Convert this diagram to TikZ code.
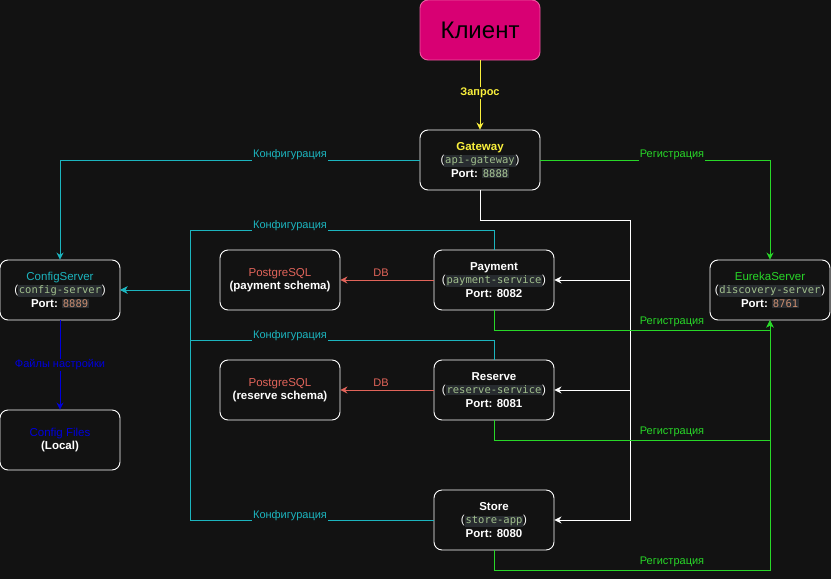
\documentclass[tikz,border=0pt]{standalone}
\usepackage{fontspec}
\setmainfont{Liberation Sans}
\setmonofont{DejaVu Sans Mono}
\usetikzlibrary{arrows.meta}
\definecolor{bg}{RGB}{18,18,18}
\definecolor{codebg}{RGB}{40,44,48}
\definecolor{codefg}{RGB}{160,190,140}
\definecolor{numor}{RGB}{200,140,110}
\definecolor{numgr}{RGB}{170,200,150}
\definecolor{cy}{RGB}{28,180,190}
\definecolor{gr}{RGB}{40,215,40}
\definecolor{yl}{RGB}{250,240,60}
\definecolor{sa}{RGB}{225,100,90}
\definecolor{bl}{RGB}{0,0,220}
\definecolor{mag}{RGB}{216,0,115}
\newcommand{\cd}[2][codefg]{{\setlength{\fboxsep}{0.8pt}\colorbox{codebg}{\fontsize{10.5}{12}\ttfamily\color{#1}#2}}}
\tikzset{
  box/.style={draw=white, line width=0.9pt, rounded corners=8pt, fill=bg, minimum width=120pt, minimum height=60pt, align=center, text=white, font=\fontsize{11.5}{13.5}\selectfont, inner sep=0pt},
  lab/.style={fill=bg, inner sep=1pt, font=\fontsize{11}{13}\selectfont},
  arr/.style={line width=0.9pt, -{Stealth[length=7pt,width=7pt]}},
  wl/.style={arr, draw=white},
  cl/.style={arr, draw=cy},
  gl/.style={arr, draw=gr},
}
\begin{document}
\begin{tikzpicture}[x=1pt,y=-1pt]
\fill[bg] (0,0) rectangle (831,579);
\useasboundingbox (0,0) rectangle (831,579);

% nodes
\node[box, fill=mag, draw={rgb,255:red,235;green,90;blue,160}, text=black, font=\fontsize{24}{28}\selectfont] (cli) at (480,30) {Клиент};
\node[box] (gw) at (480,160) {\textcolor{yl}{\bfseries Gateway}\\(\cd{api-gateway})\\\bfseries Port: \cd[numgr]{\mdseries 8888}};
\node[box] (cfg) at (60,290) {\textcolor{cy}{ConfigServer}\\(\cd{config-server})\\\bfseries Port: \cd[numor]{\mdseries 8889}};
\node[box] (files) at (60,440) {\textcolor{bl}{Config Files}\\\bfseries (Local)};
\node[box] (pg1) at (280,280) {\textcolor{sa}{PostgreSQL}\\\bfseries (payment schema)};
\node[box] (pg2) at (280,390) {\textcolor{sa}{PostgreSQL}\\\bfseries (reserve schema)};
\node[box] (pay) at (494,280) {\bfseries Payment\\(\cd{\mdseries payment-service})\\\bfseries Port: 8082};
\node[box] (res) at (494,390) {\bfseries Reserve\\(\cd{\mdseries reserve-service})\\\bfseries Port: 8081};
\node[box] (sto) at (494,520) {\bfseries Store\\(\cd{\mdseries store-app})\\\bfseries Port: 8080};
\node[box] (eur) at (770,290) {\textcolor{gr}{EurekaServer}\\(\cd{discovery-server})\\\bfseries Port: \cd[numor]{\mdseries 8761}};

% bends
\coordinate (gbus) at (630,220);
\coordinate (c1) at (190,230);
\coordinate (c2) at (190,340);
\coordinate (c3) at (190,520);
\coordinate (e1) at (770,330);
\coordinate (e2) at (770,440);
\coordinate (e3) at (770,570);

% connectors
\draw[arr, draw=yl] (cli) -- (gw);
\draw[cl] (gw.west) -| (cfg.north);
\draw[gl] (gw.east) -| (eur.north);
\draw[wl] (gw.south) |- (gbus) |- (pay.east);
\draw[wl] (gbus) |- (res.east);
\draw[wl] (gbus) |- (sto.east);
\draw[cl] (pay.north) |- (c1) |- (cfg.east);
\draw[cl] (res.north) |- (c2) |- (cfg.east);
\draw[cl] (sto.west) -- (c3) |- (cfg.east);
\draw[arr, draw=sa] (pay.west) -- (pg1.east);
\draw[arr, draw=sa] (res.west) -- (pg2.east);
\draw[gl] (pay.south) |- (e1) -- (eur.south);
\draw[gl] (res.south) |- (e2) -- (eur.south);
\draw[gl] (sto.south) |- (e3) -- (eur.south);
\draw[arr, draw=bl] (cfg) -- (files);

% labels
\node[lab, text=yl, font=\fontsize{11}{13}\bfseries] (l0) at (480,93) {Запрос};
\node[lab, text=cy] (l1) at (290,155) {Конфигурация};
\node[lab, text=cy] (l2) at (290,226) {Конфигурация};
\node[lab, text=cy] (l3) at (290,336) {Конфигурация};
\node[lab, text=cy] (l4) at (290,516) {Конфигурация};
\node[lab, text=gr] (l5) at (672,155) {Регистрация};
\node[lab, text=gr] (l6) at (672,322) {Регистрация};
\node[lab, text=gr] (l7) at (672,432) {Регистрация};
\node[lab, text=gr] (l8) at (672,562) {Регистрация};
\node[lab, text=sa] (l9) at (381,273) {DB};
\node[lab, text=sa] (l10) at (381,383) {DB};
\node[lab, text=bl] (l11) at (60,365) {Файлы настройки};
\end{tikzpicture}
\end{document}
